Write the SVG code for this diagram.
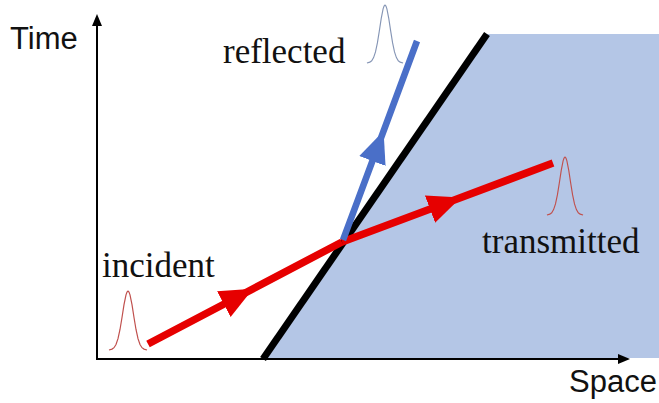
<svg xmlns="http://www.w3.org/2000/svg" width="659" height="403" viewBox="0 0 659 403">
  <style>
    .sans { font-family: "Liberation Sans", Arial, sans-serif; font-size: 31px; fill: #111; }
    .serif { font-family: "Liberation Serif", "Times New Roman", serif; font-size: 35px; fill: #111; }
    .axis { stroke: #000; stroke-width: 2; fill: none; }
    .ray-red { stroke: #e60000; stroke-width: 7.5; fill: none; }
    .ray-blue { stroke: #4a6fc8; stroke-width: 6.5; fill: none; }
    .pulse { fill: none; stroke-width: 1.2; }
  </style>
  <defs>
    <marker id="axisArrow" markerUnits="userSpaceOnUse" markerWidth="14" markerHeight="12" viewBox="0 -6 14 12" refX="0" refY="0" orient="auto">
      <path d="M0,-5 L12,0 L0,5 z" fill="#000"/>
    </marker>
    <marker id="redArrow" markerUnits="userSpaceOnUse" markerWidth="36" markerHeight="32" viewBox="0 -16 36 32" refX="16" refY="0" orient="auto">
      <path d="M0,-14.5 L33,0 L0,14.5 z" fill="#e60000"/>
    </marker>
    <marker id="blueArrow" markerUnits="userSpaceOnUse" markerWidth="36" markerHeight="32" viewBox="0 -16 36 32" refX="16" refY="0" orient="auto">
      <path d="M0,-14 L32,0 L0,14 z" fill="#4a6fc8"/>
    </marker>
    <path id="gauss" d="M-19,0 L-16,-0.9 L-14,-2.3 L-12,-5.5 L-10,-11.3 L-8,-20.5 L-6,-32.5 L-4,-45.3 L-2,-55.2 L-1,-58 L0,-59 L1,-58 L2,-55.2 L4,-45.3 L6,-32.5 L8,-20.5 L10,-11.3 L12,-5.5 L14,-2.3 L16,-0.9 L19,0"/>
  </defs>

  <g id="medium">
    <polygon points="263,358 487,34 659,34 659,358" fill="#b4c6e6"/>
  </g>

  <g id="axes">
    <line class="axis" x1="97" y1="360" x2="97" y2="26" marker-end="url(#axisArrow)"/>
    <line class="axis" x1="96" y1="359" x2="618" y2="359" marker-end="url(#axisArrow)"/>
    <text class="sans" x="10" y="49">Time</text>
    <text class="sans" x="569" y="392">Space</text>
  </g>

  <g id="boundary">
    <line x1="263" y1="359" x2="487" y2="34" stroke="#000" stroke-width="7"/>
  </g>

  <g id="connectors">
    <path id="incident-ray" class="ray-red" d="M148,344 L238,296.7 L342,242" marker-mid="url(#redArrow)"/>
    <path id="transmitted-ray" class="ray-red" d="M342,242 L445,203.5 L553,163" marker-mid="url(#redArrow)"/>
    <path id="reflected-ray" class="ray-blue" d="M343,240 L378,146 L417,41" marker-mid="url(#blueArrow)"/>
  </g>

  <g id="incident">
    <use href="#gauss" class="pulse" stroke="#c0504d" transform="translate(128,350)"/>
    <text class="serif" x="102" y="277">incident</text>
  </g>

  <g id="reflected">
    <use href="#gauss" class="pulse" stroke="#8595b5" transform="translate(385,63) scale(0.95,0.98)"/>
    <text class="serif" x="223" y="63">reflected</text>
  </g>

  <g id="transmitted">
    <use href="#gauss" class="pulse" stroke="#c0504d" transform="translate(565,215) scale(0.95,0.98)"/>
    <text class="serif" x="482" y="253">transmitted</text>
  </g>
</svg>
